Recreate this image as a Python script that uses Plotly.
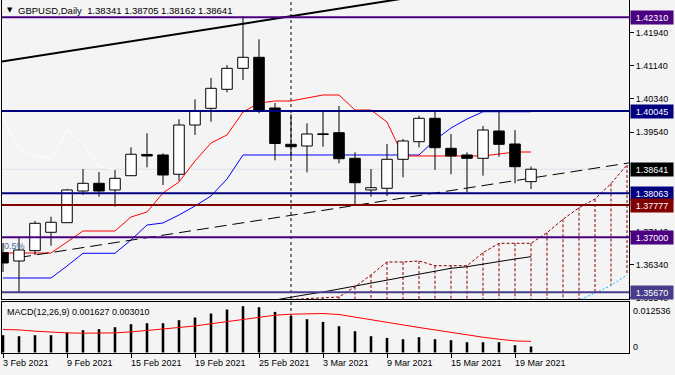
import plotly.graph_objects as go

# ---------------- data ----------------
dates = ["2021-02-03", "2021-02-04", "2021-02-05", "2021-02-08", "2021-02-09", "2021-02-10",
         "2021-02-11", "2021-02-12", "2021-02-15", "2021-02-16", "2021-02-17", "2021-02-18",
         "2021-02-19", "2021-02-22", "2021-02-23", "2021-02-24", "2021-02-25", "2021-02-26",
         "2021-03-01", "2021-03-02", "2021-03-03", "2021-03-04", "2021-03-05", "2021-03-08",
         "2021-03-09", "2021-03-10", "2021-03-11", "2021-03-12", "2021-03-15", "2021-03-16",
         "2021-03-17", "2021-03-18", "2021-03-19", "2021-03-22"]
future_bars = 6

open_ = [1.36625, 1.36425, 1.36674, 1.37118, 1.37350, 1.38115, 1.38301, 1.38140, 1.38485, 1.38997,
         1.38985, 1.38519, 1.39709, 1.40112, 1.40571, 1.41078, 1.41344, 1.40120, 1.39243, 1.39202,
         1.39480, 1.39523, 1.38905, 1.38140, 1.38181, 1.38881, 1.39306, 1.39871, 1.39146, 1.38985,
         1.38905, 1.39564, 1.39250, 1.38341]
high = [1.36860, 1.36988, 1.37391, 1.37495, 1.38164, 1.38647, 1.38574, 1.38622, 1.39171, 1.39509,
        1.39026, 1.39847, 1.40330, 1.40844, 1.41158, 1.42330, 1.41779, 1.40240, 1.39970, 1.39750,
        1.40040, 1.40168, 1.39050, 1.38647, 1.39250, 1.39371, 1.39934, 1.40030, 1.39492, 1.39050,
        1.39685, 1.40030, 1.39588, 1.38705]
low = [1.36159, 1.35670, 1.36570, 1.36794, 1.37343, 1.38019, 1.37978, 1.37736, 1.38478, 1.38688,
       1.38260, 1.38364, 1.39468, 1.39789, 1.40499, 1.40796, 1.39992, 1.38857, 1.38912, 1.38567,
       1.39185, 1.38784, 1.37777, 1.37978, 1.37995, 1.38446, 1.39171, 1.38622, 1.38519, 1.38084,
       1.38485, 1.38944, 1.38301, 1.38162]
close = [1.36377, 1.36691, 1.37335, 1.37360, 1.38140, 1.38301, 1.38115, 1.38422, 1.39002, 1.38961,
         1.38502, 1.39709, 1.40047, 1.40595, 1.41078, 1.41344, 1.40071, 1.39262, 1.39185, 1.39492,
         1.39497, 1.38895, 1.38316, 1.38195, 1.38881, 1.39323, 1.39871, 1.39161, 1.38961, 1.38905,
         1.39588, 1.39243, 1.38702, 1.38641]

tenkan = [1.36618, 1.36618, 1.36618, 1.36618, 1.36884, 1.37149, 1.37149, 1.37149, 1.37487, 1.37608,
          1.38067, 1.38333, 1.38840, 1.39275, 1.39468, 1.40023, 1.40240, 1.40289, 1.40289, 1.40361,
          1.40434, 1.40434, 1.40071, 1.40071, 1.39782, 1.38961, 1.38961, 1.38961, 1.38961, 1.38961,
          1.38961, 1.39009, 1.39057, 1.39057]
kijun = [1.36014, 1.36014, 1.36014, 1.36014, 1.36304, 1.36611, 1.36611, 1.36611, 1.36932, 1.37294,
         1.37343, 1.37536, 1.37753, 1.37995, 1.38405, 1.38985, 1.38985, 1.38985, 1.38985, 1.38985,
         1.38985, 1.38985, 1.38985, 1.38985, 1.38985, 1.38985, 1.38985, 1.39347, 1.39637, 1.39854,
         1.40030, 1.40030, 1.40030, 1.40030]
chikou_shift = 26

ma_start = 17
ma_line = [1.35483, 1.35556, 1.35616, 1.35676, 1.35749, 1.35821, 1.35894, 1.35966, 1.36039,
           1.36111, 1.36183, 1.36249, 1.36287, 1.36352, 1.36418, 1.36473, 1.36529]

cloud_start = 18
span_a = [1.35495, 1.35519, 1.35531, 1.35556, 1.35804, 1.36087, 1.36401, 1.36401, 1.36425, 1.36311,
          1.36311, 1.36311, 1.36625, 1.36852, 1.36852, 1.36852, 1.37108, 1.37432, 1.37712, 1.37922,
          1.38296, 1.38743]
span_b = [1.35200, 1.35200, 1.35200, 1.35200, 1.35200, 1.35200, 1.35200, 1.35200, 1.35200, 1.35200,
          1.35200, 1.35200, 1.35200, 1.35200, 1.35200, 1.35200, 1.35200, 1.35300, 1.35471, 1.35652,
          1.35833, 1.36087]

macd = [0.004685, 0.004414, 0.004685, 0.004685, 0.005416, 0.006039, 0.006310, 0.006851, 0.007664,
        0.007934, 0.007934, 0.008747, 0.009478, 0.010561, 0.011644, 0.012536, 0.012267, 0.010994,
        0.009911, 0.009018, 0.008286, 0.007122, 0.005768, 0.004414, 0.003954, 0.003602, 0.004143,
        0.003602, 0.003331, 0.002789, 0.002789, 0.002789, 0.001977, 0.001627]
signal = [0.00623, 0.00612, 0.00577, 0.00550, 0.00531, 0.00523, 0.00523, 0.00531, 0.00558, 0.00604,
          0.00650, 0.00677, 0.00720, 0.00775, 0.00829, 0.00902, 0.00956, 0.01010, 0.01037, 0.01056,
          0.01056, 0.01029, 0.00956, 0.00902, 0.00829, 0.00747, 0.00677, 0.00612, 0.00542, 0.00469,
          0.00414, 0.00360, 0.00314, 0.00301]

# trend lines (bar index anchors, prices)
trend_up_x = [-1, 25]
trend_up_y = [1.41185, 1.42762]
trend_dash_x = [1, 40]
trend_dash_y = [1.36509, 1.38845]

# horizontal levels
levels = [1.42310, 1.40045, 1.38063, 1.37777, 1.37000, 1.35670]
level_colors = ["#4B0082", "#000080", "#000080", "#800000", "#4B0082", "#483D8B"]

price_ticks = [1.41940, 1.41140, 1.40340, 1.39540, 1.37140, 1.36340, 1.35540]
tick_dates = ["2021-02-03", "2021-02-09", "2021-02-15", "2021-02-19", "2021-02-25",
              "2021-03-03", "2021-03-09", "2021-03-15", "2021-03-19"]
tick_labels = ["3 Feb 2021", "9 Feb 2021", "15 Feb 2021", "19 Feb 2021", "25 Feb 2021",
               "3 Mar 2021", "9 Mar 2021", "15 Mar 2021", "19 Mar 2021"]

title_text = "GBPUSD,Daily  1.38341 1.38705 1.38162 1.38641"
macd_text = "MACD(12,26,9) 0.001627 0.003010"
macd_max_label = "0.012536"
fibo_text = "0.5%"
fibo_level = 1.36787

# ---------------- figure ----------------
FONT = "Liberation Sans"
BG = "#F4F4F4"
n = len(dates)
idx = list(range(n))
X_RANGE = [-0.0625, n - 1 + future_bars + 0.125]
Y_RANGE = [1.35507, 1.42728]
M_RANGE = [-0.000135, 0.013675]

fig = go.Figure()

# Chikou span (close shifted back)
ch_x = [i - chikou_shift for i in idx if i - chikou_shift >= -1]
ch_y = [close[i] for i in idx if i - chikou_shift >= -1]
fig.add_trace(go.Scatter(x=ch_x, y=ch_y, mode="lines", line=dict(color="#FFFFFF", width=1),
                         xaxis="x", yaxis="y", hoverinfo="skip"))

# cloud verticals
cx = list(range(cloud_start, cloud_start + len(span_a)))
vx, vy = [], []
for i, a, b in zip(cx, span_a, span_b):
    vx += [i, i, None]
    vy += [a, b, None]
fig.add_trace(go.Scatter(x=vx, y=vy, mode="lines", line=dict(color="#8B0000", width=1, dash="3px,2px"),
                         xaxis="x", yaxis="y", hoverinfo="skip"))
fig.add_trace(go.Scatter(x=cx, y=span_a, mode="lines", line=dict(color="#8B0000", width=1, dash="3px,2px"),
                         xaxis="x", yaxis="y", hoverinfo="skip"))
fig.add_trace(go.Scatter(x=cx, y=span_b, mode="lines", line=dict(color="#00BFFF", width=1, dash="2px,2px"),
                         xaxis="x", yaxis="y", hoverinfo="skip"))

# MA line
fig.add_trace(go.Scatter(x=list(range(ma_start, ma_start + len(ma_line))), y=ma_line, mode="lines",
                         line=dict(color="black", width=1), xaxis="x", yaxis="y", hoverinfo="skip"))
# Tenkan / Kijun
fig.add_trace(go.Scatter(x=idx, y=kijun, mode="lines", line=dict(color="#0000FF", width=1),
                         xaxis="x", yaxis="y", hoverinfo="skip"))
fig.add_trace(go.Scatter(x=idx, y=tenkan, mode="lines", line=dict(color="#FF0000", width=1),
                         xaxis="x", yaxis="y", hoverinfo="skip"))
# trend lines
fig.add_trace(go.Scatter(x=trend_dash_x, y=trend_dash_y, mode="lines",
                         line=dict(color="black", width=1, dash="12px,6px"),
                         xaxis="x", yaxis="y", hoverinfo="skip"))
fig.add_trace(go.Scatter(x=trend_up_x, y=trend_up_y, mode="lines", line=dict(color="black", width=2),
                         xaxis="x", yaxis="y", hoverinfo="skip"))

# candles on overlay axis (drawn above indicators)
body_base = [min(o, c) for o, c in zip(open_, close)]
body_h = [abs(c - o) for o, c in zip(open_, close)]
body_col = ["#FFFFFF" if c >= o else "#000000" for o, c in zip(open_, close)]
wx, wy = [], []
for i in idx:
    top, bot = max(open_[i], close[i]), min(open_[i], close[i])
    wx += [i, i, None, i, i, None]
    wy += [high[i], top, None, bot, low[i], None]
fig.add_trace(go.Bar(x=idx, y=body_h, base=body_base, width=0.66,
                     marker=dict(color=body_col, line=dict(color="black", width=1)),
                     xaxis="x", yaxis="y3", hoverinfo="skip"))
fig.add_trace(go.Scatter(x=wx, y=wy, mode="lines", line=dict(color="black", width=1),
                         xaxis="x", yaxis="y3", hoverinfo="skip"))

# MACD panel
fig.add_trace(go.Bar(x=idx, y=macd, width=0.16, marker=dict(color="black", line=dict(width=0)),
                     xaxis="x2", yaxis="y2", hoverinfo="skip"))
fig.add_trace(go.Scatter(x=idx, y=signal, mode="lines", line=dict(color="#FF0000", width=1),
                         xaxis="x2", yaxis="y2", hoverinfo="skip"))

# bid line
fig.add_shape(type="line", xref="x domain", x0=0, x1=1, yref="y", y0=close[-1], y1=close[-1],
              line=dict(color="#DCE2EE", width=1), layer="below")

# period separators
seps = [i for i in range(1, n) if dates[i][5:7] != dates[i - 1][5:7]]
for s in seps:
    for yr in ("y domain", "y2 domain"):
        fig.add_shape(type="line", xref="x", x0=s, x1=s, yref=yr, y0=0, y1=1,
                      line=dict(color="black", width=1, dash="3px,3px"), layer="below")

# horizontal levels + tags
ann = []
for lv, col in zip(levels, level_colors):
    fig.add_shape(type="line", xref="x domain", x0=0, x1=1, yref="y", y0=lv, y1=lv,
                  line=dict(color=col, width=2), layer="above")
    ann.append(dict(xref="x domain", x=1, xanchor="left", xshift=1, yref="y", y=lv, yanchor="middle",
                    text=f"{lv:.5f}", showarrow=False, bgcolor=col, width=40, height=11,
                    font=dict(family=FONT, size=9, color="white")))
ann.append(dict(xref="x domain", x=1, xanchor="left", xshift=1, yref="y", y=close[-1], yanchor="middle",
                text=f"{close[-1]:.5f}", showarrow=False, bgcolor="black", width=40, height=11,
                font=dict(family=FONT, size=9, color="white")))

# titles / labels
ann.append(dict(xref="paper", x=0, xanchor="left", xshift=3, yref="paper", y=1, yanchor="middle", yshift=-10,
                text="▼", showarrow=False, font=dict(family="DejaVu Sans", size=7, color="black")))
ann.append(dict(xref="paper", x=0, xanchor="left", xshift=14, yref="paper", y=1, yanchor="middle", yshift=-10,
                text=title_text.replace("  ", "&nbsp; "), showarrow=False,
                font=dict(family=FONT, size=9.5, color="black")))
ann.append(dict(xref="paper", x=0, xanchor="left", xshift=3, yref="y2 domain", y=1, yanchor="middle",
                yshift=-10, text=macd_text, showarrow=False, font=dict(family=FONT, size=9, color="black")))
ann.append(dict(xref="paper", x=1, xanchor="left", xshift=2, yref="y2 domain", y=1, yanchor="middle",
                yshift=-9, text=macd_max_label, showarrow=False, font=dict(family=FONT, size=9, color="black")))
ann.append(dict(xref="paper", x=1, xanchor="left", xshift=2, yref="y2 domain", y=0, yanchor="middle",
                yshift=6, text="0", showarrow=False, font=dict(family=FONT, size=9, color="black")))
ann.append(dict(xref="x domain", x=0, xanchor="left", xshift=0, yref="y", y=fibo_level, yanchor="middle",
                text=fibo_text, showarrow=False, font=dict(family=FONT, size=9, color="#4A6A9A")))
tick_idx = [dates.index(d) for d in tick_dates]
for ti, tl in zip(tick_idx, tick_labels):
    ann.append(dict(xref="x2", x=ti, xanchor="left", xshift=-2, yref="paper", y=0, yanchor="top", yshift=-3,
                    text=tl, showarrow=False, font=dict(family=FONT, size=9, color="black")))

axis_common = dict(showgrid=False, zeroline=False, showline=True, mirror=True, linecolor="black",
                   linewidth=1)
main_bottom = (353 - 299) / 353
macd_top = (353 - 302) / 353
fig.update_layout(
    width=675, height=375,
    margin=dict(l=2, r=46, t=0, b=22),
    paper_bgcolor=BG, plot_bgcolor=BG,
    showlegend=False, barmode="overlay",
    font=dict(family=FONT, size=9, color="black"),
    xaxis=dict(domain=[0, 1], range=X_RANGE, anchor="y", showticklabels=False, ticks="", **axis_common),
    yaxis=dict(domain=[main_bottom, 1], range=Y_RANGE, anchor="x", side="right",
               tickvals=price_ticks, ticktext=[f"{v:.5f}" for v in price_ticks],
               ticks="outside", ticklen=4, tickcolor="black",
               tickfont=dict(family=FONT, size=9, color="black"), **axis_common),
    yaxis3=dict(range=Y_RANGE, overlaying="y", anchor="x", visible=False, showgrid=False, zeroline=False),
    xaxis2=dict(domain=[0, 1], range=X_RANGE, anchor="y2", tickvals=tick_idx, ticks="outside", ticklen=4,
                tickcolor="black", showticklabels=False, **axis_common),
    yaxis2=dict(domain=[0, macd_top], range=M_RANGE, anchor="x2", side="right", showticklabels=False,
                ticks="", **axis_common),
    annotations=ann,
)

fig.write_html("out.html", config={"displayModeBar": False},
               post_script="document.body.style.margin='0px';document.body.style.overflow='hidden';")
